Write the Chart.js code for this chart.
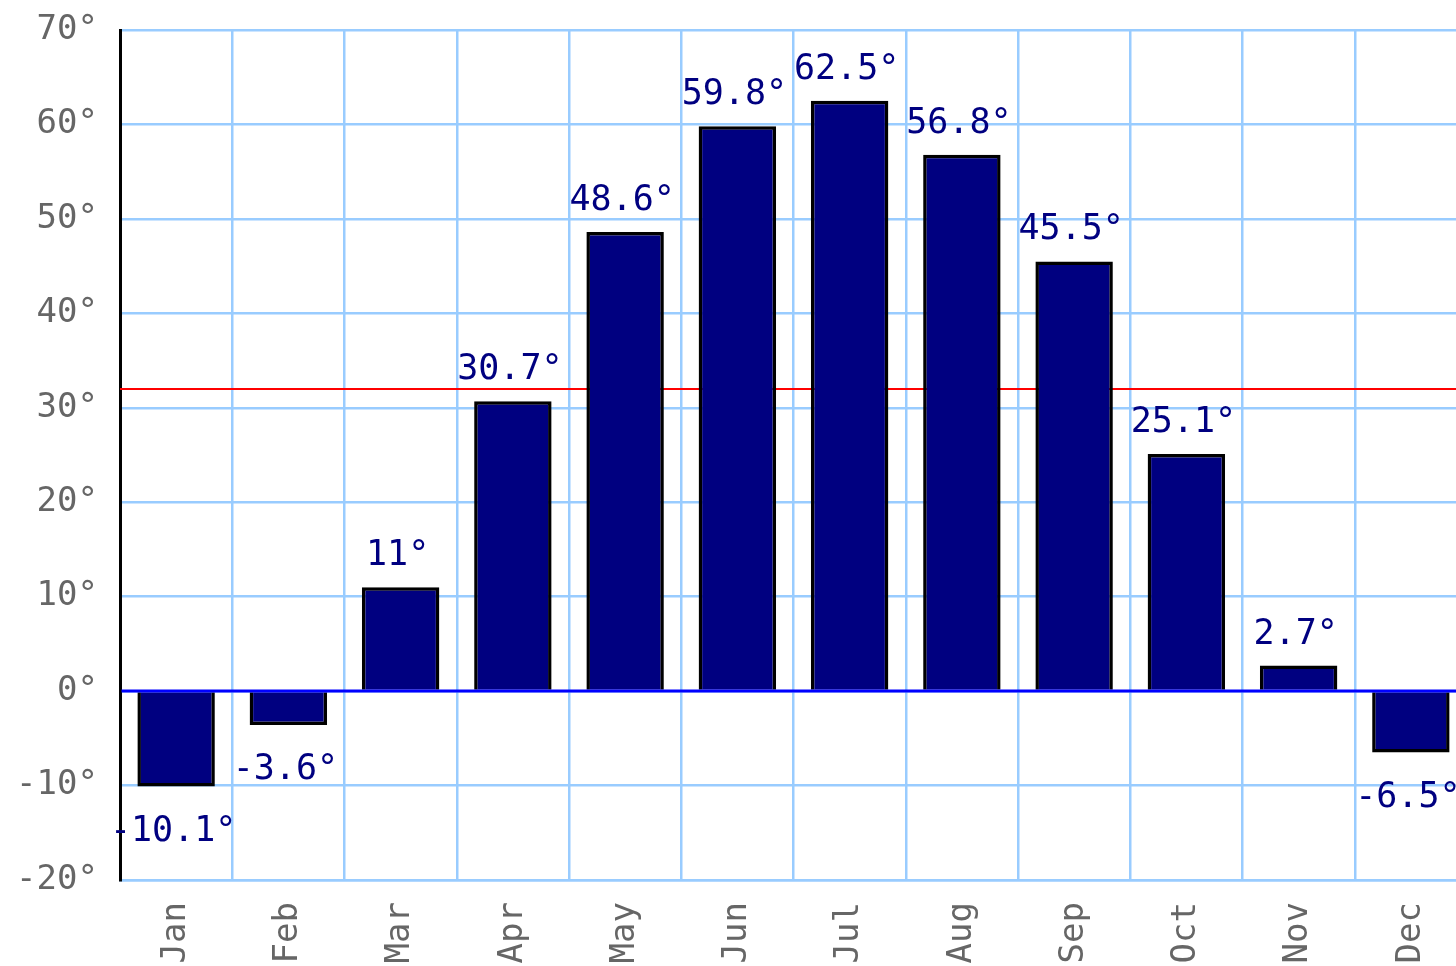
<!DOCTYPE html>
<html>
<head>
<meta charset="utf-8">
<script src="https://cdn.jsdelivr.net/npm/chart.js@4"></script>
<style>
  html, body { margin: 0; padding: 0; background: #ffffff; overflow: hidden; width: 1456px; height: 966px; }
  #wrap { position: absolute; left: 0; top: 0; width: 1467px; height: 966px; }
</style>
</head>
<body>
<div id="wrap"><canvas id="c"></canvas></div>
<script>
const months = ["Jan","Feb","Mar","Apr","May","Jun","Jul","Aug","Sep","Oct","Nov","Dec"];
const temps = [-10.1, -3.6, 11, 30.7, 48.6, 59.8, 62.5, 56.8, 45.5, 25.1, 2.7, -6.5];
const yMin = -20, yMax = 70, yStep = 10;
const freezeLine = 32;

const FONT = '"DejaVu Sans Mono", "Liberation Mono", monospace';

const linesPlugin = {
  id: 'lines',
  beforeDatasetsDraw(chart) {
    const {ctx, chartArea, scales} = chart;
    const y = scales.y.getPixelForValue(freezeLine);
    ctx.save();
    ctx.strokeStyle = '#ff0000';
    ctx.lineWidth = 2;
    ctx.beginPath();
    ctx.moveTo(chartArea.left, y);
    ctx.lineTo(chartArea.right, y);
    ctx.stroke();
    ctx.restore();
  },
  afterDatasetsDraw(chart) {
    const {ctx, chartArea, scales} = chart;
    const y0 = scales.y.getPixelForValue(0);
    ctx.save();
    ctx.strokeStyle = '#0000ff';
    ctx.lineWidth = 3;
    ctx.beginPath();
    ctx.moveTo(chartArea.left + 1.5, y0);
    ctx.lineTo(chartArea.right, y0);
    ctx.stroke();
    ctx.restore();
  },
  afterDraw(chart) {
    const {ctx} = chart;
    const meta = chart.getDatasetMeta(0);
    ctx.save();
    ctx.font = '35px ' + FONT;
    ctx.fillStyle = '#000080';
    ctx.textAlign = 'center';
    ctx.textBaseline = 'alphabetic';
    meta.data.forEach((bar, i) => {
      const v = temps[i];
      const txt = v + '°';
      const x = bar.x - 3;
      if (v >= 0) {
        ctx.fillText(txt, x, bar.y - 22);
      } else {
        ctx.fillText(txt, x, bar.y + 54);
      }
    });
    ctx.restore();
  }
};

new Chart(document.getElementById('c'), {
  type: 'bar',
  data: {
    labels: months,
    datasets: [{
      data: temps,
      backgroundColor: '#000080',
      borderColor: '#000000',
      borderWidth: 3.5,
      barPercentage: 0.69,
      categoryPercentage: 1.0
    }]
  },
  options: {
    responsive: true,
    maintainAspectRatio: false,
    animation: false,
    layout: { padding: { top: 30, right: 0, left: 0, bottom: 0 } },
    plugins: {
      legend: { display: false },
      tooltip: { enabled: false }
    },
    scales: {
      x: {
        grid: { color: '#99ccff', lineWidth: 2.5, drawTicks: false, offset: true },
        border: { color: '#99ccff', width: 2.5 },
        ticks: {
          color: '#666666',
          font: { family: FONT, size: 34 },
          minRotation: 90,
          maxRotation: 90,
          padding: 22,
          autoSkip: false
        },
        afterFit(scale) {
          scale.height = 86;
          scale.paddingLeft = 0; scale.paddingRight = 0;
        }
      },
      y: {
        min: yMin,
        max: yMax,
        grid: { color: '#99ccff', lineWidth: 2.5, drawTicks: false },
        border: { color: '#000000', width: 3 },
        ticks: {
          stepSize: yStep,
          color: '#666666',
          font: { family: FONT, size: 34 },
          padding: 22,
          callback: (v) => v + '°'
        },
        afterFit(scale) {
          scale.width = 120;
          scale.paddingTop = 0; scale.paddingBottom = 0;
        }
      }
    }
  },
  plugins: [linesPlugin]
});
</script>
</body>
</html>
